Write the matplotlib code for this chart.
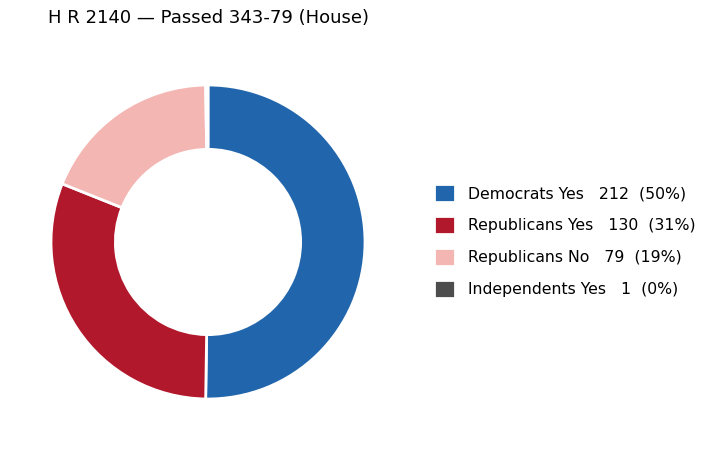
import matplotlib
matplotlib.use("Agg")
import matplotlib.pyplot as plt

labels = ["Democrats Yes", "Republicans Yes", "Republicans No", "Independents Yes"]
values = [212, 130, 79, 1]
colors = ["#2166ac", "#b2182b", "#f4b6b2", "#4d4d4d"]
title = "H R 2140 \u2014 Passed 343-79 (House)"

W, H = 712, 450
fig = plt.figure(figsize=(W / 100, H / 100), dpi=100)
cx, cy, r = 208, 242, 157
ax = fig.add_axes([(cx - r) / W, (H - cy - r) / H, 2 * r / W, 2 * r / H])
wedges, _ = ax.pie(values, colors=colors, startangle=90, counterclock=False,
                   wedgeprops=dict(width=0.41, edgecolor="white", linewidth=2))
ax.set_xlim(-1, 1)
ax.set_ylim(-1, 1)
ax.set_aspect("equal")
ax.axis("off")

total = sum(values)
leg_labels = [f"{l}   {v}  ({v / total * 100:.0f}%)" for l, v in zip(labels, values)]
fig.legend(wedges, leg_labels, loc="center left", bbox_to_anchor=(426 / W, 1 - 241 / H),
           frameon=False, fontsize=11.3, handlelength=1.35, handleheight=1.3,
           labelspacing=0.95, handletextpad=0.8, borderaxespad=0, borderpad=0.5)

fig.text(cx / W, 1 - 18 / H, title, ha="center", va="center", fontsize=13)
fig.savefig("out.png", dpi=100)
